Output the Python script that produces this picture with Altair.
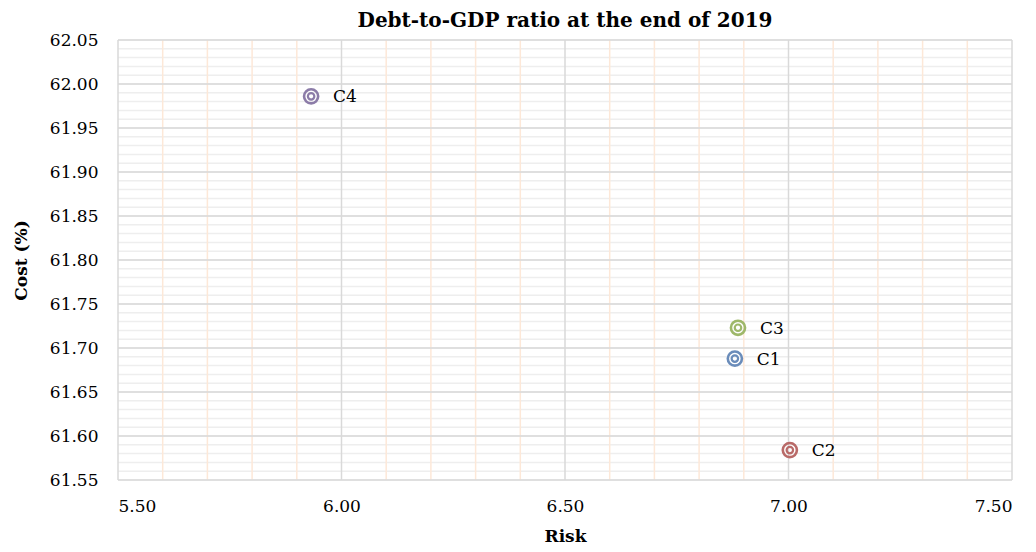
import altair as alt
import pandas as pd
import numpy as np

labels = ["C1", "C2", "C3", "C4"]
risk = [6.880, 7.003, 6.887, 5.932]
cost = [61.688, 61.584, 61.723, 61.986]
colors = ["#6a8cba", "#b96a68", "#9eb86a", "#8c7ca8"]

x_major = [5.5, 6.0, 6.5, 7.0, 7.5]
x_minor = [5.6, 5.7, 5.8, 5.9, 6.1, 6.2, 6.3, 6.4, 6.6, 6.7, 6.8, 6.9, 7.1, 7.2, 7.3, 7.4]
y_major = [61.55, 61.60, 61.65, 61.70, 61.75, 61.80, 61.85, 61.90, 61.95, 62.00, 62.05]
y_minor = [round(61.55 + 0.01 * i, 2) for i in range(51)]

FONT = "DejaVu Serif"
xs = alt.Scale(domain=[5.5, 7.5], nice=False, zero=False)
ys = alt.Scale(domain=[61.55, 62.05], nice=False, zero=False)

df = pd.DataFrame({"label": labels, "risk": risk, "cost": cost, "color": colors})

ymin_df = pd.DataFrame({"y": y_minor})
ymaj_df = pd.DataFrame({"y": y_major})
xmin_df = pd.DataFrame({"x": x_minor})
xmaj_df = pd.DataFrame({"x": x_major})

grid_ymin = alt.Chart(ymin_df).mark_rule(color="#eeeeee", strokeWidth=1.5).encode(
    y=alt.Y("y:Q", scale=ys))
grid_xmin = alt.Chart(xmin_df).mark_rule(color="#fde8d8", strokeWidth=1.5).encode(
    x=alt.X("x:Q", scale=xs))
grid_ymaj = alt.Chart(ymaj_df).mark_rule(color="#d9d9d9", strokeWidth=1.5).encode(
    y=alt.Y("y:Q", scale=ys))
grid_xmaj = alt.Chart(xmaj_df).mark_rule(color="#d9d9d9", strokeWidth=1.5).encode(
    x=alt.X("x:Q", scale=xs))

base = alt.Chart(df).encode(
    x=alt.X("risk:Q", scale=xs,
            axis=alt.Axis(title="Risk", values=x_major, format=".2f", grid=False,
                          ticks=False, domain=False, labelPadding=18,
                          titlePadding=14)),
    y=alt.Y("cost:Q", scale=ys,
            axis=alt.Axis(title="Cost (%)", values=y_major, format=".2f", grid=False,
                          ticks=False, domain=False, labelPadding=20,
                          titlePadding=19)),
    color=alt.Color("color:N", scale=None),
)

outer = base.mark_point(shape="circle", filled=False, size=200, strokeWidth=2.6, opacity=1)
inner = base.mark_point(shape="circle", filled=False, size=42, strokeWidth=2.2, opacity=1)
text = base.mark_text(align="left", dx=22, dy=1, fontSize=17, font=FONT, color="black").encode(
    text="label:N", color=alt.value("black"))

chart = alt.layer(grid_ymin, grid_xmin, grid_ymaj, grid_xmaj, outer, inner, text).properties(
    width=894, height=440,
    title=alt.Title("Debt-to-GDP ratio at the end of 2019", font=FONT, fontSize=20,
                    fontWeight="bold", color="black", offset=0, anchor="middle"),
    autosize=alt.AutoSizeParams(type="none"),
    padding={"left": 110, "top": 32, "right": 10, "bottom": 72},
).configure_axis(
    labelFont=FONT, labelFontSize=17, labelColor="black",
    titleFont=FONT, titleFontSize=17, titleFontWeight="bold", titleColor="black",
).configure_view(stroke=None)

chart.save("out.html", embed_options={"renderer": "svg", "actions": False})
